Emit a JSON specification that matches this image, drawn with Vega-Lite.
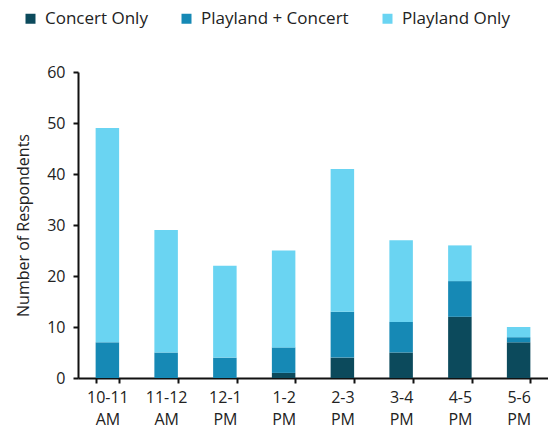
{
  "$schema": "https://vega.github.io/schema/vega-lite/v6.json",
  "width": 470,
  "height": 306,
  "autosize": {"type": "none"},
  "padding": {"left": 78, "top": 72, "right": 0, "bottom": 63},
  "background": "white",
  "config": {
    "font": "Open Sans",
    "view": {"stroke": null}
  },
  "data": {
    "values": [
      {"slot": "10-11 AM", "group": "Concert Only", "rank": 1, "count": 0},
      {"slot": "10-11 AM", "group": "Playland + Concert", "rank": 2, "count": 7},
      {"slot": "10-11 AM", "group": "Playland Only", "rank": 3, "count": 42},
      {"slot": "11-12 AM", "group": "Concert Only", "rank": 1, "count": 0},
      {"slot": "11-12 AM", "group": "Playland + Concert", "rank": 2, "count": 5},
      {"slot": "11-12 AM", "group": "Playland Only", "rank": 3, "count": 24},
      {"slot": "12-1 PM", "group": "Concert Only", "rank": 1, "count": 0},
      {"slot": "12-1 PM", "group": "Playland + Concert", "rank": 2, "count": 4},
      {"slot": "12-1 PM", "group": "Playland Only", "rank": 3, "count": 18},
      {"slot": "1-2 PM", "group": "Concert Only", "rank": 1, "count": 1},
      {"slot": "1-2 PM", "group": "Playland + Concert", "rank": 2, "count": 5},
      {"slot": "1-2 PM", "group": "Playland Only", "rank": 3, "count": 19},
      {"slot": "2-3 PM", "group": "Concert Only", "rank": 1, "count": 4},
      {"slot": "2-3 PM", "group": "Playland + Concert", "rank": 2, "count": 9},
      {"slot": "2-3 PM", "group": "Playland Only", "rank": 3, "count": 28},
      {"slot": "3-4 PM", "group": "Concert Only", "rank": 1, "count": 5},
      {"slot": "3-4 PM", "group": "Playland + Concert", "rank": 2, "count": 6},
      {"slot": "3-4 PM", "group": "Playland Only", "rank": 3, "count": 16},
      {"slot": "4-5 PM", "group": "Concert Only", "rank": 1, "count": 12},
      {"slot": "4-5 PM", "group": "Playland + Concert", "rank": 2, "count": 7},
      {"slot": "4-5 PM", "group": "Playland Only", "rank": 3, "count": 7},
      {"slot": "5-6 PM", "group": "Concert Only", "rank": 1, "count": 7},
      {"slot": "5-6 PM", "group": "Playland + Concert", "rank": 2, "count": 1},
      {"slot": "5-6 PM", "group": "Playland Only", "rank": 3, "count": 2}
    ]
  },
  "mark": {"type": "bar"},
  "encoding": {
    "x": {
      "field": "slot",
      "type": "nominal",
      "sort": null,
      "scale": {"paddingInner": 0.6, "paddingOuter": 0.3},
      "axis": {
        "title": null,
        "labelAngle": 0,
        "labelExpr": "split(datum.label, ' ')",
        "labelFontSize": 16,
        "labelColor": "#222",
        "labelLineHeight": 22,
        "labelPadding": 6,
        "tickBand": "extent",
        "tickSize": 5,
        "tickWidth": 2,
        "tickColor": "#111",
        "domainColor": "#111",
        "domainWidth": 2
      }
    },
    "y": {
      "field": "count",
      "type": "quantitative",
      "stack": "zero",
      "scale": {"domain": [0, 60]},
      "axis": {
        "title": "Number of Respondents",
        "titleFontSize": 16,
        "titleFontWeight": "normal",
        "titleColor": "#222",
        "titlePadding": 15,
        "values": [0, 10, 20, 30, 40, 50, 60],
        "grid": false,
        "labelFontSize": 16,
        "labelColor": "#222",
        "labelPadding": 8,
        "tickSize": 5,
        "tickWidth": 2,
        "tickColor": "#111",
        "domainColor": "#111",
        "domainWidth": 2
      }
    },
    "color": {
      "field": "group",
      "type": "nominal",
      "sort": ["Concert Only", "Playland + Concert", "Playland Only"],
      "scale": {
        "domain": ["Concert Only", "Playland + Concert", "Playland Only"],
        "range": ["#0c4a5c", "#1689b5", "#6ad4f2"]
      },
      "legend": {
        "title": null,
        "orient": "none",
        "direction": "horizontal",
        "legendX": -56,
        "legendY": -62,
        "symbolType": "square",
        "symbolSize": 100,
        "symbolStrokeWidth": 0,
        "labelFontSize": 17,
        "labelColor": "#222",
        "labelOffset": 6,
        "columnPadding": 30
      }
    },
    "order": {"field": "rank", "type": "quantitative"}
  }
}
